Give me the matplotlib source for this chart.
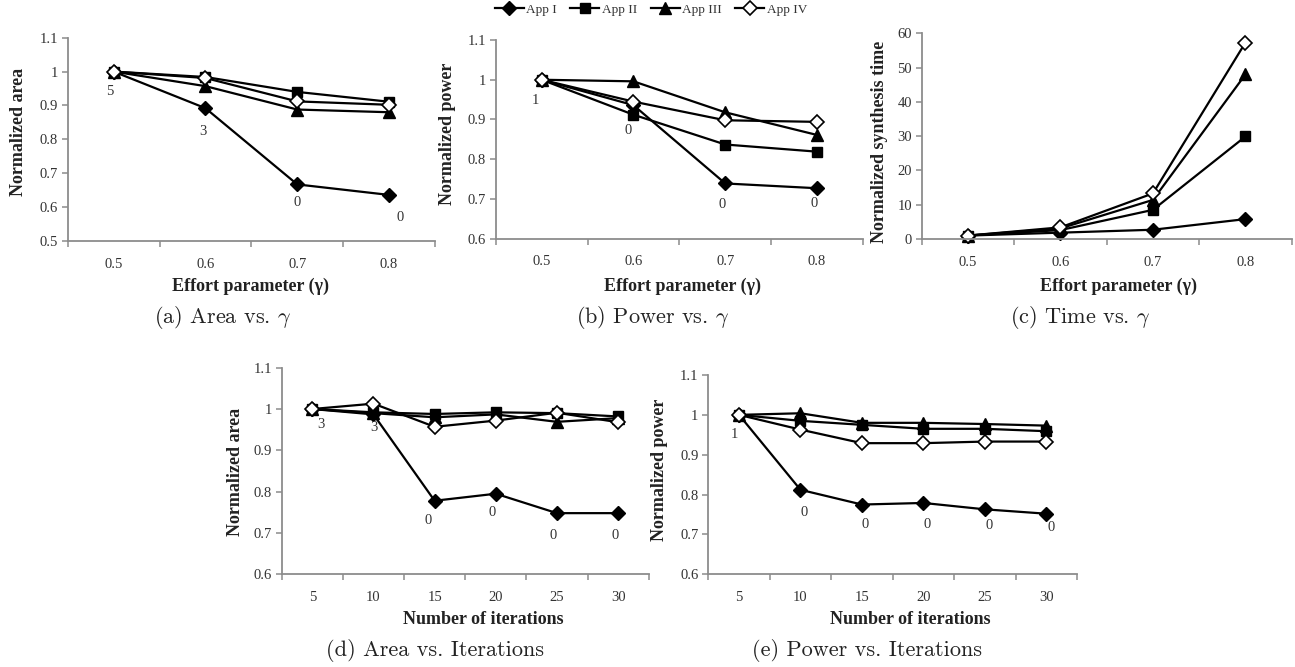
import matplotlib
matplotlib.use("Agg")
import matplotlib.pyplot as plt
from matplotlib.ticker import FixedLocator, FuncFormatter

plt.rcParams['font.family'] = ['Liberation Serif', 'DejaVu Serif']
plt.rcParams['mathtext.fontset'] = 'cm'

# ---------------- data ----------------
series_names = ["App I", "App II", "App III", "App IV"]
gamma_cats = ["0.5", "0.6", "0.7", "0.8"]
iter_cats = ["5", "10", "15", "20", "25", "30"]

area_gamma_I = [1.0, 0.892, 0.667, 0.636]
area_gamma_II = [1.0, 0.984, 0.940, 0.911]
area_gamma_III = [1.0, 0.957, 0.888, 0.880]
area_gamma_IV = [1.0, 0.981, 0.912, 0.902]
area_gamma_labels = ["5", "3", "0", "0"]

power_gamma_I = [1.0, 0.936, 0.739, 0.727]
power_gamma_II = [1.0, 0.912, 0.837, 0.819]
power_gamma_III = [1.0, 0.996, 0.918, 0.861]
power_gamma_IV = [1.0, 0.945, 0.898, 0.894]
power_gamma_labels = ["1", "0", "0", "0"]

time_gamma_I = [1.0, 1.85, 2.7, 5.8]
time_gamma_II = [1.0, 2.6, 8.5, 29.9]
time_gamma_III = [1.0, 3.1, 11.4, 48.0]
time_gamma_IV = [1.0, 3.4, 13.3, 57.3]

area_iter_I = [1.0, 0.987, 0.778, 0.795, 0.748, 0.748]
area_iter_II = [1.0, 0.992, 0.988, 0.992, 0.990, 0.982]
area_iter_III = [1.0, 0.990, 0.980, 0.987, 0.969, 0.978]
area_iter_IV = [1.0, 1.013, 0.957, 0.972, 0.991, 0.968]
area_iter_labels = ["3", "3", "0", "0", "0", "0"]

power_iter_I = [1.0, 0.812, 0.775, 0.779, 0.763, 0.752]
power_iter_II = [1.0, 0.985, 0.975, 0.965, 0.965, 0.959]
power_iter_III = [1.0, 1.004, 0.980, 0.980, 0.977, 0.973]
power_iter_IV = [1.0, 0.963, 0.929, 0.929, 0.933, 0.933]
power_iter_labels = ["1", "0", "0", "0", "0", "0"]

# ---------------- styling ----------------
W, H = 1295, 667
fig = plt.figure(figsize=(W / 100, H / 100), dpi=100)

def px_axes(l, t, r, b):
    return [l / W, 1 - b / H, (r - l) / W, (b - t) / H]

markers = [dict(marker='D', mfc='black', mec='black', ms=7),
           dict(marker='s', mfc='black', mec='black', ms=7),
           dict(marker='^', mfc='black', mec='black', ms=8),
           dict(marker='D', mfc='white', mec='black', ms=7, mew=1.2)]
GRAY = '#8c8c8c'
TXT = '#333333'
TITLE = '#222222'

def setup(ax, cats, ylim, yticks, yfmt):
    n = len(cats)
    x = list(range(n))
    ax.set_xlim(-0.5, n - 0.5)
    ax.set_ylim(*ylim)
    for s in ['top', 'right']:
        ax.spines[s].set_visible(False)
    for s in ['left', 'bottom']:
        ax.spines[s].set_color(GRAY)
        ax.spines[s].set_linewidth(1.3)
    ax.set_xticks(x)
    ax.set_xticklabels(cats)
    ax.xaxis.set_minor_locator(FixedLocator([i - 0.5 for i in range(n + 1)]))
    ax.tick_params(axis='x', which='major', length=0, pad=12, labelsize=10.5, labelcolor=TXT)
    ax.tick_params(axis='x', which='minor', length=4, width=1.1, color=GRAY, direction='out')
    ax.set_yticks(yticks)
    ax.yaxis.set_major_formatter(FuncFormatter(yfmt))
    ax.tick_params(axis='y', length=4, width=1.1, color=GRAY, direction='out',
                   labelsize=10.5, labelcolor=TXT, pad=3)
    return x

def fmt_dec(v, p):
    s = f"{v:.1f}"
    if s.endswith(".0"):
        s = s[:-2]
    return s

def fmt_int(v, p):
    return f"{int(round(v))}"

def draw(ax, x, ys):
    handles = []
    for y, mk in zip(ys, markers):
        h, = ax.plot(x, y, color='black', lw=1.6, clip_on=False, **mk)
        handles.append(h)
    return handles

def labels(ax, x, y, texts, offsets):
    for xi, yi, t, (dx, dy) in zip(x, y, texts, offsets):
        ax.annotate(t, (xi, yi), xytext=(dx * 0.72, -dy * 0.72), textcoords='offset points',
                    ha='center', va='center', fontsize=10.5, color=TXT)

# (a)
ax_a = fig.add_axes(px_axes(67.7, 37.7, 435, 241))
x = setup(ax_a, gamma_cats, (0.5, 1.1), [0.5, 0.6, 0.7, 0.8, 0.9, 1.0, 1.1], fmt_dec)
handles = draw(ax_a, x, [area_gamma_I, area_gamma_II, area_gamma_III, area_gamma_IV])
labels(ax_a, x, area_gamma_I, area_gamma_labels, [(-4.3, 19.7), (-2.3, 23), (0, 18.3), (11, 22.7)])

# (b)
ax_b = fig.add_axes(px_axes(495.7, 40, 863, 238.7))
x = setup(ax_b, gamma_cats, (0.6, 1.1), [0.6, 0.7, 0.8, 0.9, 1.0, 1.1], fmt_dec)
draw(ax_b, x, [power_gamma_I, power_gamma_II, power_gamma_III, power_gamma_IV])
labels(ax_b, x, power_gamma_I, power_gamma_labels, [(-6.3, 21), (-5, 25), (-3, 20.7), (-2.7, 15.7)])

# (c)
ax_c = fig.add_axes(px_axes(921.7, 33.3, 1291.7, 239))
x = setup(ax_c, gamma_cats, (0, 60), [0, 10, 20, 30, 40, 50, 60], fmt_int)
draw(ax_c, x, [time_gamma_I, time_gamma_II, time_gamma_III, time_gamma_IV])

# (d)
ax_d = fig.add_axes(px_axes(281.7, 367.7, 648.7, 574.3))
x = setup(ax_d, iter_cats, (0.6, 1.1), [0.6, 0.7, 0.8, 0.9, 1.0, 1.1], fmt_dec)
draw(ax_d, x, [area_iter_I, area_iter_II, area_iter_III, area_iter_IV])
labels(ax_d, x, area_iter_I, area_iter_labels,
       [(8.3, 15), (0.7, 13), (-6, 20), (-4, 19), (-4, 22.7), (-3.3, 22.7)])

# (e)
ax_e = fig.add_axes(px_axes(708.3, 375, 1077, 574.3))
x = setup(ax_e, iter_cats, (0.6, 1.1), [0.6, 0.7, 0.8, 0.9, 1.0, 1.1], fmt_dec)
draw(ax_e, x, [power_iter_I, power_iter_II, power_iter_III, power_iter_IV])
labels(ax_e, x, power_iter_I, power_iter_labels,
       [(-5, 20), (3.3, 22.7), (3.3, 20.3), (3.7, 22), (4, 15.7), (5, 13.7)])

# axis titles
def ftext(xp, yp, s, **kw):
    fig.text(xp / W, 1 - yp / H, s, ha='center', va='center', **kw)

tkw = dict(fontsize=13, fontweight='bold', color=TITLE)
for xc in [250, 683, 1118]:
    ftext(xc, 286, "Effort parameter (γ)", **tkw)
for xc in [483, 910]:
    ftext(xc, 619, "Number of iterations", **tkw)
ftext(19, 132, "Normalized area", rotation=90, **tkw)
ftext(447, 134, "Normalized power", rotation=90, **tkw)
ftext(879, 142, "Normalized synthesis time", rotation=90, **tkw)
ftext(235, 472, "Normalized area", rotation=90, **tkw)
ftext(660, 470, "Normalized power", rotation=90, **tkw)

# captions
cap_kw = dict(fontsize=16, family=['cmr10', 'DejaVu Serif'], color=TITLE)
ftext(223, 318, r"(a) Area vs. $\gamma$", **cap_kw)
ftext(653, 318, r"(b) Power vs. $\gamma$", **cap_kw)
ftext(1080, 318, r"(c) Time vs. $\gamma$", **cap_kw)
ftext(435, 651, "(d) Area vs. Iterations", **cap_kw)
ftext(867, 651, "(e) Power vs. Iterations", **cap_kw)

# legend
leg = fig.legend(handles, series_names, loc='center', bbox_to_anchor=(651 / W, 1 - 10 / H),
                 ncol=4, frameon=False, fontsize=9.5, handlelength=2.2, handletextpad=0.2,
                 columnspacing=1.0, borderpad=0)
for t in leg.get_texts():
    t.set_color(TXT)

fig.savefig("out.png", dpi=100)
